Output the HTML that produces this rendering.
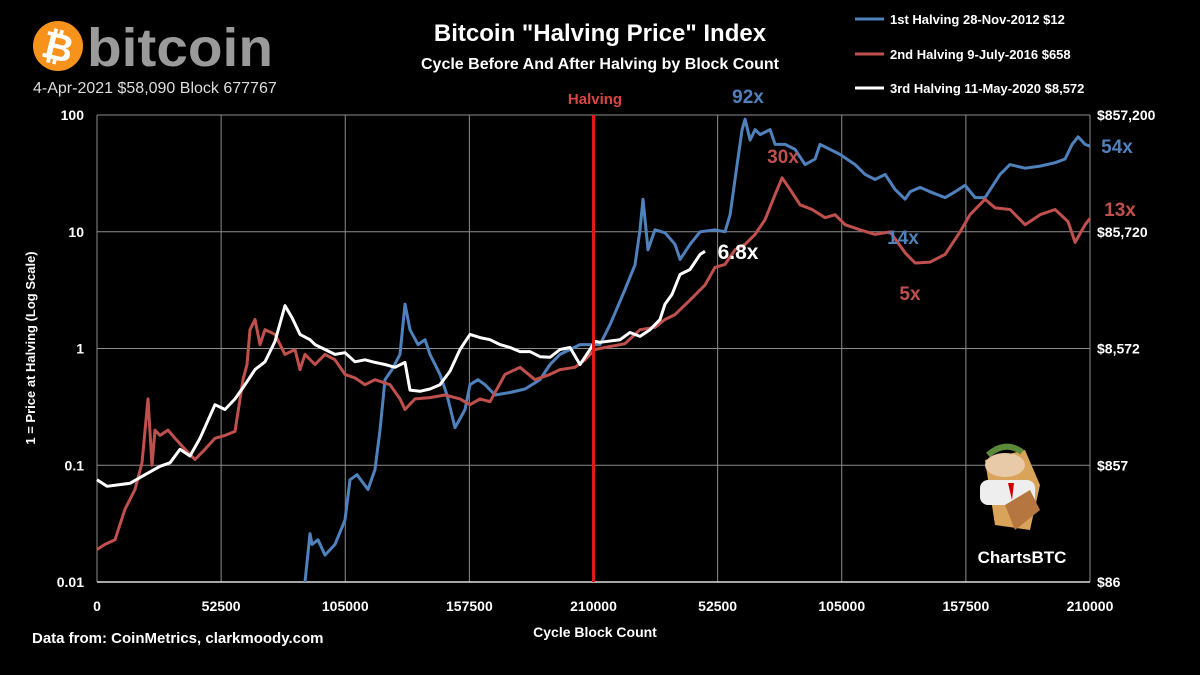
<!DOCTYPE html>
<html><head><meta charset="utf-8"><style>
html,body{margin:0;padding:0;background:#000;}
svg{display:block;font-family:"Liberation Sans",sans-serif;}
</style></head><body>
<svg id="chart" width="1200" height="675" viewBox="0 0 1200 675" xmlns="http://www.w3.org/2000/svg">
<rect width="1200" height="675" fill="#000"/>
<g>
<circle cx="58" cy="46" r="25" fill="#f7931a"/>
<text x="58" y="60" font-size="38" font-weight="bold" fill="#fff" text-anchor="middle" transform="rotate(14 58 46)">₿</text>
<text x="87" y="66" font-size="54" font-weight="bold" fill="#9a9a9a" textLength="186" lengthAdjust="spacingAndGlyphs">bitcoin</text>
</g>
<text x="33" y="93" font-size="16" fill="#ddd">4-Apr-2021 $58,090 Block 677767</text>
<text x="600" y="41" font-size="24" font-weight="bold" fill="#fff" text-anchor="middle">Bitcoin "Halving Price" Index</text>
<text x="600" y="69" font-size="16" font-weight="bold" fill="#fff" text-anchor="middle">Cycle Before And After Halving by Block Count</text>
<g>
<g><line x1="855" y1="19" x2="884" y2="19" stroke="#4f81bd" stroke-width="3"/><text x="890" y="24" font-size="13" font-weight="bold" fill="#fff">1st Halving 28-Nov-2012 $12</text></g>
<g><line x1="855" y1="54" x2="884" y2="54" stroke="#c0504d" stroke-width="3"/><text x="890" y="59" font-size="13" font-weight="bold" fill="#fff">2nd Halving 9-July-2016 $658</text></g>
<g><line x1="855" y1="88" x2="884" y2="88" stroke="#fff" stroke-width="3"/><text x="890" y="93" font-size="13" font-weight="bold" fill="#fff">3rd Halving 11-May-2020 $8,572</text></g>
</g>
<g id="grid"></g>
<g id="axes"></g>
<g id="series"></g>
<g id="ann"></g>
<text x="32" y="643" font-size="15" font-weight="bold" fill="#fff">Data from:  CoinMetrics, clarkmoody.com</text>
<text x="595" y="637" font-size="14" font-weight="bold" fill="#fff" text-anchor="middle">Cycle Block Count</text>
<text x="35" y="348" font-size="13" font-weight="bold" fill="#fff" text-anchor="middle" transform="rotate(-90 35 348)">1 = Price at Halving (Log Scale)</text>
<g>
<polygon points="985,460 1025,450 1040,485 1030,530 995,525" fill="#d9a35a"/>
<ellipse cx="1005" cy="465" rx="20" ry="12" fill="#e8c9a8"/>
<path d="M988 455 Q1005 440 1022 452" stroke="#5a8a3a" stroke-width="6" fill="none"/>
<rect x="980" y="480" width="55" height="25" rx="8" fill="#eee"/>
<path d="M1005 505 L1030 490 L1040 510 L1015 530 Z" fill="#b5773f"/>
<polygon points="1008,483 1014,483 1012,500" fill="#c00"/>
<text x="1022" y="563" font-size="17" font-weight="bold" fill="#fff" text-anchor="middle">ChartsBTC</text>
</g>
</svg>
<script>
// ---- data ----
const xTickLabels = ["0","52500","105000","157500","210000","52500","105000","157500","210000"];
const yTickValues = [0.01,0.1,1,10,100];
const yTickLabels = ["0.01","0.1","1","10","100"];
const yRightLabels = ["$86","$857","$8,572","$85,720","$857,200"];
const blocks1 = [87980,90100,90940,93480,96440,100670,104900,107020,109980,114630,117590,119710,121820,124790,128170,130280,132400,135780,138740,140860,145090,148050,151430,153550,155660,157780,161160,164120,168350,174700,181040,187390,191620,195850,200080,204310,208540,212760,216990,223340,227570,229680,230950,233060,236030,240260,244490,246610,250840,255070,261410,265640,267760,270720,272840,274100,276220,278330,280450,284680,286790,291020,295250,299480,303710,305820,310050,314280,320630,324860,329090,333320,337550,341780,343900,348130,352360,358700,362930,367160,371390,375620,381940,386180,392540,398890,405230,409460,412420,414960,417920,420000];
const values1 = [0.01,0.026,0.021,0.023,0.017,0.021,0.034,0.075,0.083,0.062,0.092,0.2,0.54,0.66,0.89,2.4,1.45,1.08,1.19,0.89,0.6,0.4,0.21,0.25,0.3,0.49,0.54,0.49,0.4,0.42,0.45,0.54,0.73,0.89,0.98,1.08,1.08,1.08,1.6,3.2,5.2,10.4,19,7,10.4,9.8,7.8,5.8,7.8,10,10.4,10,14,37.6,75,92,61,75,68,75,56,56,50.7,37.6,42,56,50.7,46,37.6,31,28,31,23,19,22,24,22,19.6,22,25,19.6,19.6,31,37.6,35,36.5,39,42,56,65,56,54];
const blocks2 = [0,3380,7610,11840,16070,19040,21570,23270,24530,26650,30030,32990,37220,41450,45680,49910,54140,58370,61760,63450,64720,66830,68950,71060,75290,79520,83750,85870,87980,92210,96440,100670,104900,109130,113360,117590,123930,128170,130280,134510,140860,147200,153550,157780,162010,166240,172580,178930,185270,191620,195850,202190,206420,210650,214880,223340,229680,236030,240260,244490,250830,257180,261410,265640,269870,274100,278330,282560,286790,289760,293140,297370,302450,307940,312170,316400,322740,329090,335440,341780,346010,352360,358700,365050,369260,375620,379850,386200,392540,398890,405230,410730,413690,417920,420000];
const values2 = [0.019,0.021,0.023,0.042,0.062,0.105,0.37,0.1,0.2,0.18,0.2,0.17,0.137,0.112,0.137,0.17,0.18,0.195,0.54,0.73,1.45,1.77,1.08,1.45,1.32,0.89,0.98,0.66,0.89,0.73,0.89,0.8,0.6,0.56,0.49,0.54,0.49,0.37,0.3,0.37,0.38,0.4,0.37,0.33,0.37,0.35,0.6,0.69,0.54,0.6,0.66,0.69,0.8,0.98,1.02,1.1,1.45,1.52,1.77,1.95,2.6,3.5,4.95,5.25,7.0,7.8,9.5,12.7,20.8,29,23,17,15.5,13.2,14,11.5,10.4,9.5,10,6.6,5.4,5.5,6.4,10,14,19,16,15.5,11.5,14,15.5,12.2,8.1,11.5,13];
const blocks3 = [0,4230,13960,20300,26650,30880,35110,39340,43570,49910,54140,58370,62600,66830,71060,75290,79520,82490,85870,90100,92210,96440,100670,104900,109130,113360,117590,121820,126050,130280,132400,136630,140860,145090,149320,153550,157780,162010,166240,170470,174700,178930,183160,187390,191620,195850,200080,204310,208540,210650,212760,221220,225450,229680,233910,238140,240260,243220,246600,250830,255070,257180];
const values3 = [0.075,0.066,0.07,0.083,0.098,0.105,0.137,0.12,0.17,0.33,0.3,0.37,0.49,0.66,0.77,1.15,2.33,1.84,1.32,1.19,1.08,0.98,0.89,0.92,0.77,0.8,0.76,0.73,0.69,0.76,0.44,0.43,0.45,0.49,0.64,0.98,1.32,1.24,1.19,1.08,1.02,0.94,0.94,0.85,0.84,0.98,1.02,0.73,0.98,1.15,1.13,1.19,1.37,1.27,1.45,1.77,2.4,2.9,4.3,4.75,6.4,6.8];

// ---- scales ----
const X0=97,X1=1090,Y0=582,Y1=115,XMAX=420000;
const xs=b=>X0+(b/XMAX)*(X1-X0);
const ys=v=>Y0-(Math.log10(v)+2)/4*(Y0-Y1);
const NS="http://www.w3.org/2000/svg";
function mk(tag,attrs,parent,txt){const e=document.createElementNS(NS,tag);for(const k in attrs)e.setAttribute(k,attrs[k]);if(txt!==undefined)e.textContent=txt;parent.appendChild(e);return e;}
const grid=document.getElementById('grid'),axes=document.getElementById('axes'),ser=document.getElementById('series'),ann=document.getElementById('ann');

xTickLabels.forEach((l,i)=>{
  const b=i*52500,x=xs(b);
  const g=mk('line',{x1:x,y1:Y1,x2:x,y2:Y0,stroke:'#8c8c8c','stroke-width':1},grid);
  
  
  const t=mk('text',{x:x,y:611,'font-size':14,'font-weight':'bold',fill:'#fff','text-anchor':'middle'},axes,l);
  
  
});
yTickValues.forEach((v,i)=>{
  const y=ys(v);
  const g=mk('line',{x1:X0,y1:y,x2:X1,y2:y,stroke:'#8c8c8c','stroke-width':1},grid);
  
  
  const t=mk('text',{x:84,y:y+5,'font-size':14,'font-weight':'bold',fill:'#fff','text-anchor':'end'},axes,yTickLabels[i]);
  
  
  const r=mk('text',{x:1097,y:y+5,'font-size':14,'font-weight':'bold',fill:'#fff'},axes,yRightLabels[i]);
  
  
});
const ax=mk('line',{x1:X0,y1:Y0,x2:X1,y2:Y0,stroke:'#ddd','stroke-width':1.5},axes);



function series(bl,vl,color,name){
  const d=bl.map((b,i)=>(i?'L':'M')+xs(b).toFixed(1)+' '+ys(vl[i]).toFixed(1)).join(' ');
  const p=mk('path',{d:d,fill:'none',stroke:color,'stroke-width':3,'stroke-linejoin':'round'},ser);
  
  
}
series(blocks1,values1,'#4f81bd','series-1st-halving');
series(blocks2,values2,'#c0504d','series-2nd-halving');
series(blocks3,values3,'#ffffff','series-3rd-halving');

const hl=mk('line',{x1:xs(210000),y1:Y1,x2:xs(210000),y2:Y0,stroke:'#e0191b','stroke-width':3},ann);


const labels=[["Halving",595,104,15,'#d94545','halving-label'],["92x",748,103,19,'#4f81bd','label-92x'],["30x",783,163,19,'#c0504d','label-30x'],["54x",1117,153,19,'#4f81bd','label-54x'],["13x",1120,216,19,'#c0504d','label-13x'],["14x",903,244,19,'#4f81bd','label-14x'],["5x",910,300,19,'#c0504d','label-5x'],["6.8x",738,259,21,'#ffffff','label-6-8x']];
labels.forEach(a=>{
  const t=mk('text',{x:a[1],y:a[2],'font-size':a[3],'font-weight':'bold',fill:a[4],'text-anchor':'middle'},ann,a[0]);
  
  
});
</script>
</body></html>
